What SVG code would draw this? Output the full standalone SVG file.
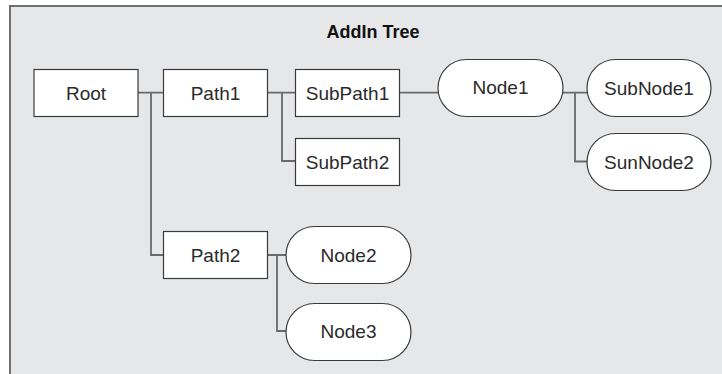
<svg xmlns="http://www.w3.org/2000/svg" width="722" height="374" viewBox="0 0 722 374">
<style>
.bg{fill:#e6e7e9;stroke:#6f6f6f;stroke-width:2}
.box{fill:#fff;stroke:#3a3a3a;stroke-width:1.2}
.lbl{font-family:"Liberation Sans",Arial,sans-serif;font-size:19px;fill:#2a2a2a;text-anchor:middle}
.title{font-family:"Liberation Sans",Arial,sans-serif;font-size:18px;font-weight:bold;fill:#111;text-anchor:middle}
.conn{fill:none;stroke:#6a6a6a;stroke-width:1.8}
</style>
<rect class="bg" x="10" y="6" width="730" height="390"/>
<text class="title" x="373" y="38">AddIn Tree</text>
<g id="connectors">
<path class="conn" d="M138,92.7 H163 M151,92.7 V255 H163"/>
<path class="conn" d="M267,92.7 H295 M282,92.7 V161 H295"/>
<path class="conn" d="M399,92.7 H438"/>
<path class="conn" d="M563,92.7 H587 M575,92.7 V161.5 H587"/>
<path class="conn" d="M267,255 H286 M277,255 V331 H286"/>
</g>
<g id="root"><rect class="box" x="34" y="69.5" width="104" height="47"/><text class="lbl" x="86" y="100">Root</text></g>
<g id="path1"><rect class="box" x="163.5" y="69.5" width="104" height="47"/><text class="lbl" x="215.5" y="100">Path1</text></g>
<g id="subpath1"><rect class="box" x="295.5" y="69.5" width="104" height="47"/><text class="lbl" x="347.5" y="100">SubPath1</text></g>
<g id="subpath2"><rect class="box" x="295.5" y="138.5" width="104" height="47"/><text class="lbl" x="347.5" y="169">SubPath2</text></g>
<g id="path2"><rect class="box" x="163.5" y="231.5" width="104" height="47"/><text class="lbl" x="215.5" y="262">Path2</text></g>
<g id="node1"><rect class="box" x="438" y="59.5" width="125" height="57" rx="28.5"/><text class="lbl" x="500.5" y="94">Node1</text></g>
<g id="subnode1"><rect class="box" x="587" y="59.5" width="124" height="57" rx="28.5"/><text class="lbl" x="649" y="95">SubNode1</text></g>
<g id="sunnode2"><rect class="box" x="587" y="133.5" width="124" height="57" rx="28.5"/><text class="lbl" x="649" y="169">SunNode2</text></g>
<g id="node2"><rect class="box" x="286" y="226.5" width="125" height="57" rx="28.5"/><text class="lbl" x="348.5" y="262">Node2</text></g>
<g id="node3"><rect class="box" x="286" y="303.5" width="125" height="57" rx="28.5"/><text class="lbl" x="348.5" y="338">Node3</text></g>
</svg>
